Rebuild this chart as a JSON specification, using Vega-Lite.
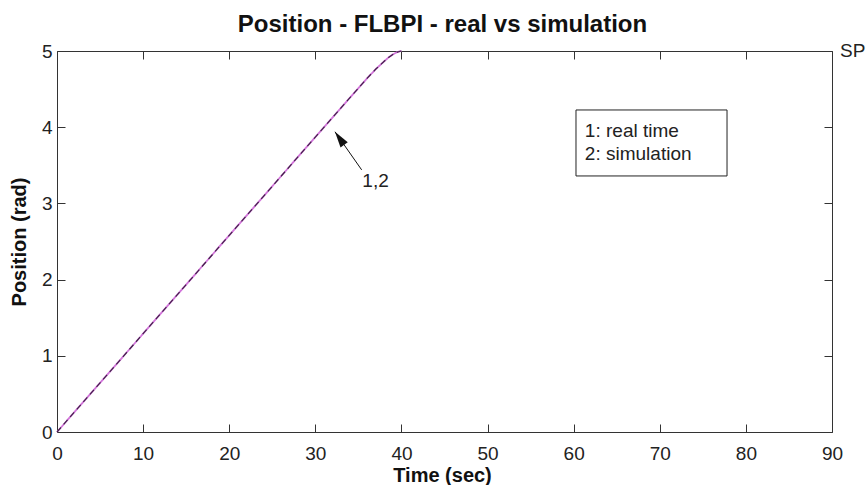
{
  "$schema": "https://vega.github.io/schema/vega-lite/v6.json",
  "width": 775,
  "height": 381,
  "autosize": {"type": "none"},
  "padding": {"left": 57, "top": 51, "right": 36, "bottom": 53},
  "background": "white",
  "config": {
    "view": {"stroke": "#333333", "strokeWidth": 1},
    "font": "Liberation Sans",
    "axis": {
      "grid": false,
      "domain": false,
      "labelFont": "Liberation Sans",
      "labelFontSize": 19,
      "labelColor": "#222222",
      "tickColor": "#333333",
      "tickSize": -8,
      "tickWidth": 1,
      "titleFont": "Liberation Sans",
      "titleFontSize": 20,
      "titleFontWeight": "bold",
      "titleColor": "#111111"
    }
  },
  "title": {
    "text": "Position - FLBPI - real vs simulation",
    "font": "Liberation Sans",
    "fontSize": 24,
    "fontWeight": "bold",
    "color": "#111111",
    "anchor": "middle",
    "frame": "group",
    "baseline": "alphabetic",
    "offset": 0,
    "dy": 14,
    "dx": -2
  },
  "datasets": {
    "curve": [
      {"series": "1: real time", "t": 0, "pos": 0},
      {"series": "1: real time", "t": 5, "pos": 0.645},
      {"series": "1: real time", "t": 10, "pos": 1.29},
      {"series": "1: real time", "t": 15, "pos": 1.935},
      {"series": "1: real time", "t": 20, "pos": 2.58},
      {"series": "1: real time", "t": 25, "pos": 3.225},
      {"series": "1: real time", "t": 30, "pos": 3.87},
      {"series": "1: real time", "t": 34, "pos": 4.386},
      {"series": "1: real time", "t": 36, "pos": 4.64},
      {"series": "1: real time", "t": 37, "pos": 4.76},
      {"series": "1: real time", "t": 38, "pos": 4.865},
      {"series": "1: real time", "t": 38.5, "pos": 4.915},
      {"series": "1: real time", "t": 39, "pos": 4.955},
      {"series": "1: real time", "t": 39.5, "pos": 4.985},
      {"series": "1: real time", "t": 40, "pos": 5.0},
      {"series": "2: simulation", "t": 0, "pos": 0},
      {"series": "2: simulation", "t": 5, "pos": 0.645},
      {"series": "2: simulation", "t": 10, "pos": 1.29},
      {"series": "2: simulation", "t": 15, "pos": 1.935},
      {"series": "2: simulation", "t": 20, "pos": 2.58},
      {"series": "2: simulation", "t": 25, "pos": 3.225},
      {"series": "2: simulation", "t": 30, "pos": 3.87},
      {"series": "2: simulation", "t": 34, "pos": 4.386},
      {"series": "2: simulation", "t": 36, "pos": 4.64},
      {"series": "2: simulation", "t": 37, "pos": 4.76},
      {"series": "2: simulation", "t": 38, "pos": 4.865},
      {"series": "2: simulation", "t": 38.5, "pos": 4.915},
      {"series": "2: simulation", "t": 39, "pos": 4.955},
      {"series": "2: simulation", "t": 39.5, "pos": 4.985},
      {"series": "2: simulation", "t": 40, "pos": 5.0}
    ],
    "sp": [{"t": 90.93, "pos": 5, "label": "SP"}],
    "legendbox": [{"t": 60.27, "t2": 77.81, "pos": 4.226, "pos2": 3.36}],
    "legendtext": [
      {"t": 61.3, "pos": 3.871, "label": "1: real time"},
      {"t": 61.3, "pos": 3.576, "label": "2: simulation"}
    ],
    "arrow": [{"t": 35.38, "pos": 3.44, "t2": 32.28, "pos2": 3.94}],
    "arrowhead": [{"t": 32.28, "pos": 3.94}],
    "arrowlabel": [{"t": 36.99, "pos": 3.29, "label": "1,2"}]
  },
  "layer": [
    {
      "data": {"name": "curve"},
      "mark": {"type": "line"},
      "encoding": {
        "x": {
          "field": "t", "type": "quantitative",
          "scale": {"domain": [0, 90], "nice": false},
          "axis": {
            "orient": "bottom",
            "values": [0, 10, 20, 30, 40, 50, 60, 70, 80, 90],
            "title": "Time (sec)",
            "labelPadding": 20,
            "labelBaseline": "top",
            "labelFlush": false,
            "titleX": 385,
            "titleY": 49,
            "titleAlign": "center",
            "titleBaseline": "alphabetic"
          }
        },
        "y": {
          "field": "pos", "type": "quantitative",
          "scale": {"domain": [0, 5], "nice": false, "zero": false},
          "axis": {
            "orient": "left",
            "values": [0, 1, 2, 3, 4, 5],
            "title": "Position (rad)",
            "labelPadding": 13,
            "labelFlush": false,
            "titleX": -37.5,
            "titleY": 190.5,
            "titleAngle": 270,
            "titleAlign": "center",
            "titleBaseline": "middle"
          }
        },
        "color": {
          "field": "series", "type": "nominal",
          "scale": {"domain": ["1: real time", "2: simulation"], "range": ["#d274da", "#43234a"]},
          "legend": null
        },
        "strokeDash": {
          "field": "series", "type": "nominal",
          "scale": {"domain": ["1: real time", "2: simulation"], "range": [[1, 0], [6, 4]]},
          "legend": null
        },
        "strokeWidth": {
          "field": "series", "type": "nominal",
          "scale": {"domain": ["1: real time", "2: simulation"], "range": [1.8, 1.2]},
          "legend": null
        }
      }
    },
    {
      "data": {"name": "sp"},
      "mark": {"type": "text", "align": "left", "baseline": "middle", "fontSize": 19, "font": "Liberation Sans", "color": "#222222"},
      "encoding": {
        "x": {
          "field": "t", "type": "quantitative",
          "axis": {"orient": "top", "labels": false, "title": null, "values": [0, 10, 20, 30, 40, 50, 60, 70, 80, 90]}
        },
        "y": {
          "field": "pos", "type": "quantitative",
          "axis": {"orient": "right", "labels": false, "title": null, "values": [0, 1, 2, 3, 4, 5]}
        },
        "text": {"field": "label"}
      }
    },
    {
      "data": {"name": "legendbox"},
      "mark": {"type": "rect", "fill": "white", "stroke": "#222222", "strokeWidth": 1},
      "encoding": {
        "x": {"field": "t", "type": "quantitative", "axis": null},
        "x2": {"field": "t2"},
        "y": {"field": "pos", "type": "quantitative", "axis": null},
        "y2": {"field": "pos2"}
      }
    },
    {
      "data": {"name": "legendtext"},
      "mark": {"type": "text", "align": "left", "baseline": "alphabetic", "fontSize": 19, "font": "Liberation Sans", "color": "#222222"},
      "encoding": {
        "x": {"field": "t", "type": "quantitative", "axis": null},
        "y": {"field": "pos", "type": "quantitative", "axis": null},
        "text": {"field": "label"}
      }
    },
    {
      "data": {"name": "arrow"},
      "mark": {"type": "rule", "color": "#111111", "strokeWidth": 1},
      "encoding": {
        "x": {"field": "t", "type": "quantitative", "axis": null},
        "x2": {"field": "t2"},
        "y": {"field": "pos", "type": "quantitative", "axis": null},
        "y2": {"field": "pos2"}
      }
    },
    {
      "data": {"name": "arrowhead"},
      "mark": {"type": "point", "shape": "M0,0L-0.55,2L0.55,2Z", "filled": true, "color": "#111111", "size": 256, "opacity": 1, "angle": 325},
      "encoding": {
        "x": {"field": "t", "type": "quantitative", "axis": null},
        "y": {"field": "pos", "type": "quantitative", "axis": null}
      }
    },
    {
      "data": {"name": "arrowlabel"},
      "mark": {"type": "text", "align": "center", "baseline": "middle", "fontSize": 19, "font": "Liberation Sans", "color": "#222222"},
      "encoding": {
        "x": {"field": "t", "type": "quantitative", "axis": null},
        "y": {"field": "pos", "type": "quantitative", "axis": null},
        "text": {"field": "label"}
      }
    }
  ],
  "resolve": {"axis": {"x": "independent", "y": "independent"}}
}
